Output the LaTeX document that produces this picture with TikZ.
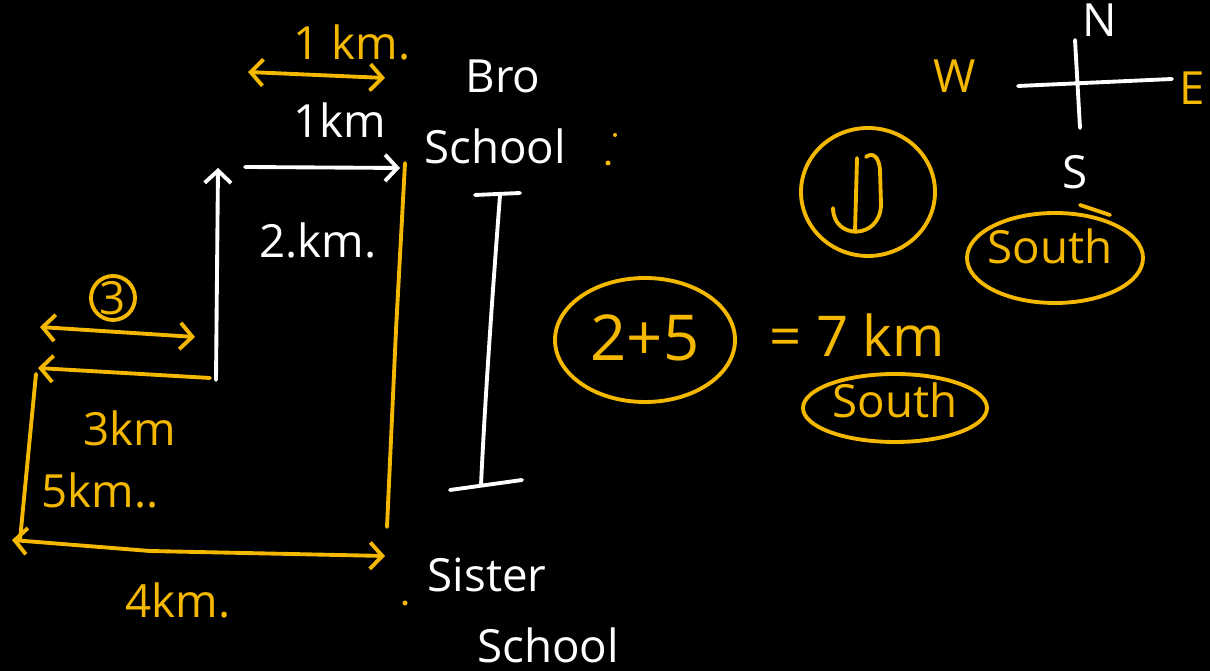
\documentclass[tikz,border=0pt]{standalone}
\usepackage{fontspec}
\setmainfont{Open Sans}
\usetikzlibrary{arrows.meta}
\definecolor{pen}{HTML}{F5B800}
\begin{document}
\begin{tikzpicture}[x=0.01cm,y=-0.01cm,
  ink/.style={line width=1.1pt,line cap=round,line join=round},
  ora/.style={ink,draw=pen},
  wht/.style={ink,draw=white},
  barb/.style={-{Straight Barb[length=3.5pt,width=7.5pt]}},
  dbarb/.style={{Straight Barb[length=3.5pt,width=7.5pt]}-{Straight Barb[length=3.5pt,width=7.5pt]}},
  olab/.style={text=pen,font=\fontsize{13}{15}\selectfont,inner sep=0pt},
  wlab/.style={text=white,font=\fontsize{13}{15}\selectfont,inner sep=0pt},
  big/.style={font=\fontsize{18}{20}\selectfont}]
\fill[black] (0,0) rectangle (1210,671);
\useasboundingbox (0,0) rectangle (1210,671);
% top orange double arrow
\coordinate (t1) at (248,72); \coordinate (t2) at (385,78);
\draw[ora,dbarb] (t1) -- (t2);
\node[olab] (lab1km) at (352,42) {1 km.};
\node[wlab] (w1km) at (340,120) {1km};
\node[wlab] (bro) at (503,76) {Bro};
\node[wlab] (school) at (495,146) {School};
\fill[pen] (615,135) circle (2); \fill[pen] (608,163) circle (2.5);
% white path
\coordinate (wu1) at (216,380); \coordinate (wu2) at (218,168);
\draw[wht,barb] (wu1) -- (wu2);
\coordinate (wa1) at (245,167); \coordinate (wa2) at (400,168);
\draw[wht,barb] (wa1) -- (wa2);
\node[wlab] (w2km) at (318,240) {2.km.};
% orange right line
\coordinate (or1) at (405,163); \coordinate (or2) at (387,527);
\draw[ora] (or1) -- (396,330) -- (or2);
% circled 3 and its double arrow
\node[olab,draw=pen,line width=1.1pt,circle,minimum size=0.44cm,inner sep=0pt] (three) at (113,298) {3};
\coordinate (d1) at (40,327); \coordinate (d2) at (195,337);
\draw[ora,dbarb] (d1) -- (d2);
% 3 km line
\coordinate (k1) at (210,378); \coordinate (k2) at (38,368);
\draw[ora,barb] (k1) -- (k2);
\node[olab] (l3km) at (130,428) {3km};
% left vertical
\coordinate (v1) at (36,374); \coordinate (v2) at (20,540);
\draw[ora] (v1) -- (v2);
\node[olab] (l5km) at (100,490) {5km..};
% bottom arrow
\coordinate (b1) at (12,540); \coordinate (b2) at (385,556);
\draw[ora,dbarb] (b1) -- (150,551) -- (b2);
\node[olab] (l4km) at (178,600) {4km.};
\node[wlab] (sister) at (487,575) {Sister};
\fill[pen] (405,603) circle (2.5);
\node[wlab] (schwl) at (548,645) {School};
% I-beam
\coordinate (it1) at (475,195); \coordinate (it2) at (520,193);
\coordinate (ib1) at (450,490); \coordinate (ib2) at (522,480);
\coordinate (is1) at (500,195); \coordinate (is2) at (481,485);
\draw[wht] (it1) -- (it2);
\draw[wht] (is1) .. controls (492,300) and (485,400) .. (is2);
\draw[wht] (ib1) -- (ib2);
% 2+5 = 7 km south
\node[text=pen,big,inner sep=0pt] (sum) at (645,338) {2+5};
\draw[ora] (645,340) ellipse [x radius=90, y radius=62];
\node[text=pen,font=\fontsize{16}{18}\selectfont,inner sep=0pt] (seven) at (857,335) {= 7 km};
\node[olab] (south2) at (895,400) {South};
\draw[ora] (895,408) ellipse [x radius=92, y radius=34];
% compass
\coordinate (cw) at (1018,86); \coordinate (ce) at (1172,79);
\coordinate (cn) at (1075,40); \coordinate (cs) at (1080,128);
\draw[wht] (cw) -- (ce);
\draw[wht] (cn) -- (cs);
\node[olab] (W) at (955,76) {W};
\node[olab] (E) at (1192,88) {E};
\node[wlab] (N) at (1100,20) {N};
\node[wlab] (S) at (1075,172) {S};
% circled down symbol
\draw[ora] (868,192) ellipse [x radius=67, y radius=64];
\draw[ora] (857,158) -- (855,232);
\draw[ora] (833,208) .. controls (833,240) and (880,240) .. (881,205) -- (880,170) .. controls (879,156) and (872,152) .. (866,157);
% south circled
\node[olab] (south1) at (1050,246) {South};
\draw[ora] (1055,258) ellipse [x radius=88, y radius=45];
\draw[ora] (1080,205) -- (1110,215);
\end{tikzpicture}
\end{document}
